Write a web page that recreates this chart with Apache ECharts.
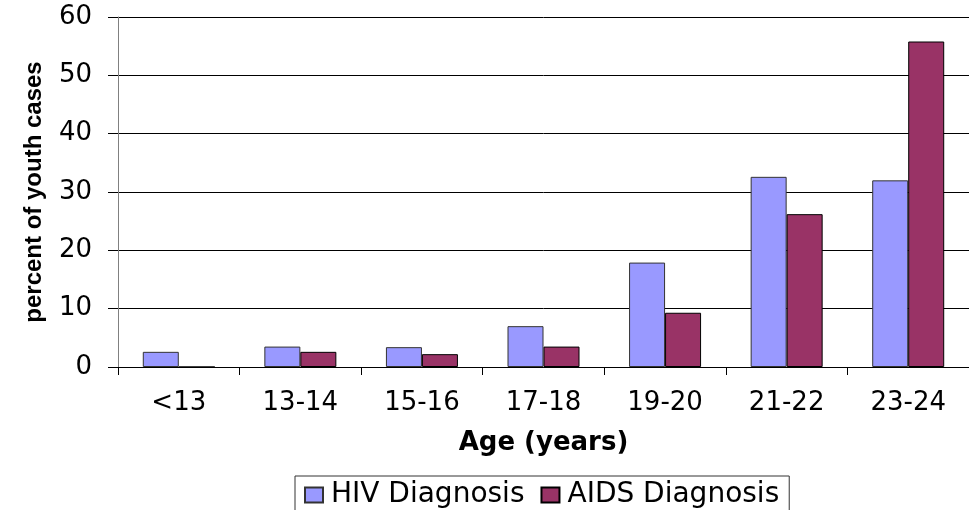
<!DOCTYPE html>
<html style="width:100%;height:100%;">
<head>
	<meta charset="UTF-8">
	<title>HIV / AIDS diagnosis by age</title>
	<script src="https://cdn.jsdelivr.net/npm/echarts@6/dist/echarts.min.js"></script>
</head>
<body style="width:100%;height:100%;margin:0;padding:0;background:#fff;">
	<div id="chart" style="width:969px;height:510px;"></div>
	<script>
		// data
		var categories = ['<13', '13-14', '15-16', '17-18', '19-20', '21-22', '23-24'];
		var hivValues = [2.6, 3.5, 3.4, 7.0, 17.9, 32.6, 32.0];
		var aidsValues = [0, 2.6, 2.2, 3.5, 9.3, 26.2, 55.8];
		var yTicks = [0, 10, 20, 30, 40, 50, 60];

		// wide font to mimic the stretched text of the original
		var wideFont = 'DejaVu Sans, Verdana, sans-serif';
		var boldFont = 'Liberation Sans, Arial, sans-serif';
		var myChart = echarts.init(document.getElementById('chart'));

		var option = {
			animation: false,
			backgroundColor: '#fff',
			grid: {
				left: 118,
				top: 17,
				width: 861,
				height: 350
			},
			legend: {
				top: 476,
				left: 295,
				data: ['HIV Diagnosis', 'AIDS Diagnosis'],
				itemWidth: 18,
				itemHeight: 15,
				itemGap: 16,
				padding: [5, 10, 10, 9],
				borderColor: '#333',
				borderWidth: 1,
				icon: 'rect',
				textStyle: { fontFamily: wideFont, fontSize: 28, color: '#000', padding: [0, 0, 0, 3] }
			},
			xAxis: {
				type: 'category',
				data: categories,
				name: 'Age (years)',
				nameLocation: 'middle',
				nameGap: 63,
				nameTextStyle: { fontFamily: wideFont, fontSize: 26, fontWeight: 'bold', color: '#000' },
				axisLine: { lineStyle: { color: '#000', width: 1 } },
				axisTick: { show: true, length: 8, lineStyle: { color: '#000' } },
				axisLabel: { fontFamily: wideFont, fontSize: 26, color: '#000', margin: 23 }
			},
			yAxis: {
				type: 'value',
				min: yTicks[0],
				max: yTicks[yTicks.length - 1],
				interval: 10,
				name: 'percent of youth cases',
				nameLocation: 'middle',
				nameGap: 72,
				nameTextStyle: { fontFamily: boldFont, fontSize: 24, fontWeight: 'bold', color: '#000' },
				axisLine: { show: true, lineStyle: { color: '#808080', width: 1 } },
				axisTick: { show: true, length: 10, lineStyle: { color: '#000' } },
				axisLabel: { fontFamily: wideFont, fontSize: 26, color: '#000', margin: 26 },
				splitLine: { show: true, lineStyle: { color: '#000', width: 1 } }
			},
			series: [{
				name: 'HIV Diagnosis',
				type: 'bar',
				data: hivValues,
				barWidth: 36,
				barGap: '0%',
				itemStyle: { color: '#9999FF', borderColor: '#333', borderWidth: 1 }
			}, {
				name: 'AIDS Diagnosis',
				type: 'bar',
				data: aidsValues,
				barWidth: 36,
				barGap: '0%',
				itemStyle: { color: '#993366', borderColor: '#000', borderWidth: 1 }
			}]
		};

		myChart.setOption(option);
	</script>
</body>
</html>
